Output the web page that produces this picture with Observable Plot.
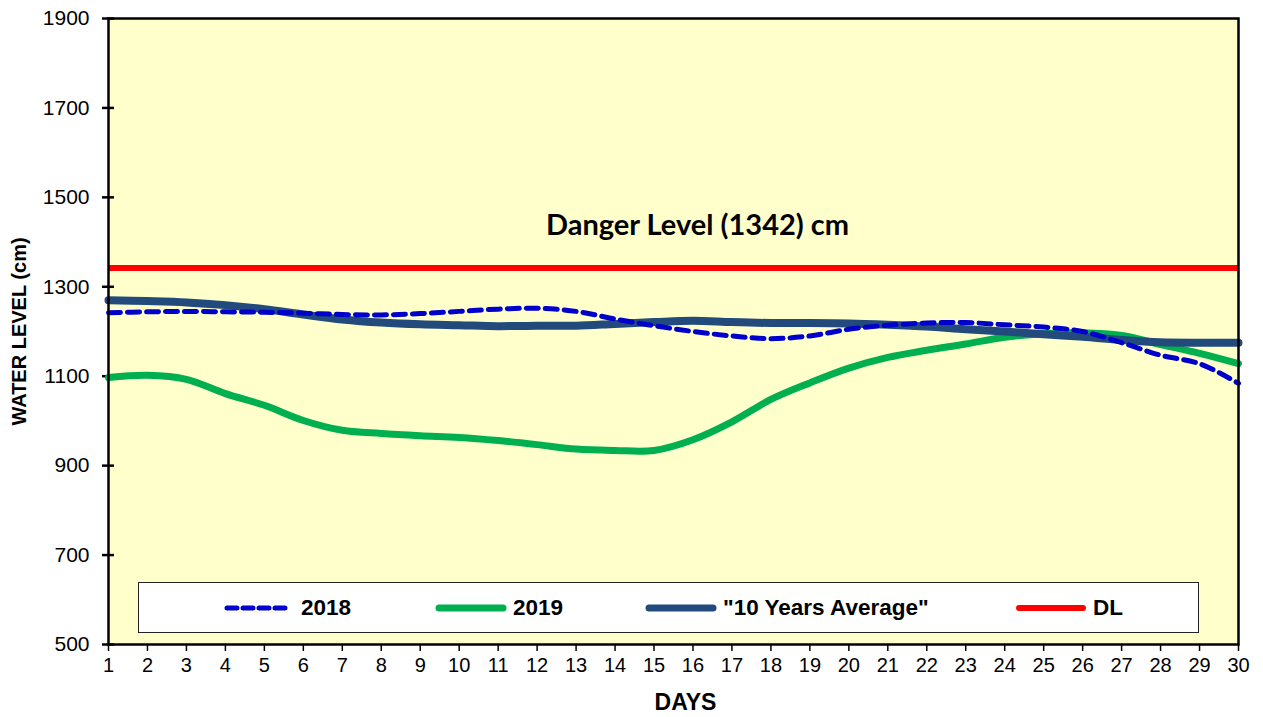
<!DOCTYPE html>
<html>
<head>
<meta charset="utf-8">
<script src="https://cdn.jsdelivr.net/npm/d3@7"></script>
<script src="https://cdn.jsdelivr.net/npm/@observablehq/plot@0.6"></script>
<style>
  html, body { margin: 0; padding: 0; background: #ffffff; }
  #wrap { position: relative; width: 1263px; height: 717px; font-family: "Liberation Sans", Arial, sans-serif; }
  #legend { position: absolute; left: 138px; top: 582px; width: 1061px; height: 51px; background: #ffffff; border: 1px solid #222; box-sizing: border-box; }
  .item { position: absolute; top: 0; height: 49px; display: flex; align-items: center; font-weight: bold; font-size: 22.5px; color: #000; }
  .item svg { margin-right: 6px; }
</style>
</head>
<body>
<div id="wrap"><div id="chart"></div><div id="legend"></div></div>
<script>
// ---- data ----
const days = d3.range(1, 31);
const level2018 = [1242, 1244, 1245, 1244, 1243, 1241, 1238, 1237, 1240, 1245,
                   1250, 1252, 1245, 1228, 1213, 1200, 1190, 1184, 1190, 1205,
                   1214, 1219, 1220, 1215, 1210, 1200, 1175, 1147, 1128, 1084];
const level2019 = [1097, 1102, 1093, 1061, 1035, 1001, 979, 972, 967, 963,
                   956, 947, 937, 934, 934, 958, 998, 1048, 1085, 1118,
                   1142, 1158, 1172, 1187, 1195, 1197, 1191, 1171, 1151, 1128];
const level10yrAvg = [1270, 1268, 1265, 1259, 1250, 1238, 1227, 1220, 1216, 1214,
                      1212, 1213, 1213, 1217, 1221, 1224, 1221, 1219, 1219, 1218,
                      1215, 1211, 1205, 1200, 1194, 1188, 1181, 1176, 1175, 1175];
const dangerLevel = 1342;
const yTicks = [500, 700, 900, 1100, 1300, 1500, 1700, 1900];
const seriesNames = ["2018", "2019", "\"10 Years Average\"", "DL"];
const annotation = "Danger Level (1342) cm";

const rows = (vals) => days.map((d, i) => ({day: d, value: vals[i]}));
const colors = {"2018": "#0000CC", "2019": "#00B050", avg: "#234A7C", dl: "#FF0000"};

const chart = Plot.plot({
  width: 1263,
  height: 717,
  marginLeft: 108,
  marginRight: 25,
  marginTop: 18,
  marginBottom: 73,
  style: {fontFamily: "'Liberation Sans', Arial, sans-serif", color: "#000", background: "#ffffff", overflow: "visible"},
  x: {domain: [1, 30]},
  y: {domain: [500, 1900]},
  marks: [
    Plot.frame({fill: "#FFFFCC"}),
    Plot.axisY({ticks: yTicks, tickFormat: d => String(d), tickSize: 6, tickPadding: 13, strokeWidth: 2.5, label: null, fontSize: 21}),
    Plot.axisY({ticks: yTicks, tickSize: -6, strokeWidth: 2.5, text: null, label: null}),
    Plot.axisX({ticks: days, tickFormat: d => String(d), tickSize: 7, tickPadding: 6, strokeWidth: 1.5, label: null, fontSize: 20}),
    Plot.text(["DAYS"], {frameAnchor: "bottom", dy: 58, dx: 12, fontWeight: "bold", fontSize: 23, lineAnchor: "middle"}),
    Plot.text(["WATER LEVEL (cm)"], {frameAnchor: "left", dx: -89, rotate: -90, textAnchor: "middle", fontWeight: "bold", fontSize: 20, lineAnchor: "middle"}),
    Plot.line(rows(level2019), {x: "day", y: "value", curve: "catmull-rom", stroke: colors["2019"], strokeWidth: 7}),
    Plot.line(rows(level10yrAvg), {x: "day", y: "value", curve: "catmull-rom", stroke: colors.avg, strokeWidth: 8}),
    Plot.line(rows(level2018), {x: "day", y: "value", curve: "catmull-rom", stroke: colors["2018"], strokeWidth: 5, strokeDasharray: "12,7"}),
    Plot.ruleY([dangerLevel], {stroke: colors.dl, strokeWidth: 6}),
    Plot.text([annotation], {x: () => (days[0] + days[days.length - 1]) / 2, y: () => dangerLevel, dy: -42, dx: 24, fontFamily: "Lato, 'Open Sans', sans-serif", fontWeight: "bold", fontSize: 29, fill: "#000"}),
    Plot.frame({stroke: "#000", strokeWidth: 2.5})
  ]
});
document.getElementById("chart").appendChild(chart);

// ---- legend (inside plot area, as in reference) ----
const legendItems = [
  {name: seriesNames[0], color: colors["2018"], dash: "10,6", width: 5, left: 84},
  {name: seriesNames[1], color: colors["2019"], dash: null, width: 7, left: 296},
  {name: seriesNames[2], color: colors.avg, dash: null, width: 7, left: 506},
  {name: seriesNames[3], color: colors.dl, dash: null, width: 6, left: 876}
];
const legend = document.getElementById("legend");
legendItems.forEach(it => {
  const div = document.createElement("div");
  div.className = "item";
  div.style.left = it.left + "px";
  const ns = "http://www.w3.org/2000/svg";
  const svg = document.createElementNS(ns, "svg");
  svg.setAttribute("width", 72);
  svg.setAttribute("height", 12);
  const ln = document.createElementNS(ns, "line");
  ln.setAttribute("x1", 4); ln.setAttribute("x2", 68);
  ln.setAttribute("y1", 6); ln.setAttribute("y2", 6);
  ln.setAttribute("stroke", it.color);
  ln.setAttribute("stroke-width", it.width);
  ln.setAttribute("stroke-linecap", "round");
  if (it.dash) ln.setAttribute("stroke-dasharray", it.dash);
  svg.appendChild(ln);
  div.appendChild(svg);
  const span = document.createElement("span");
  span.textContent = it.name;
  div.appendChild(span);
  legend.appendChild(div);
});
</script>
</body>
</html>
